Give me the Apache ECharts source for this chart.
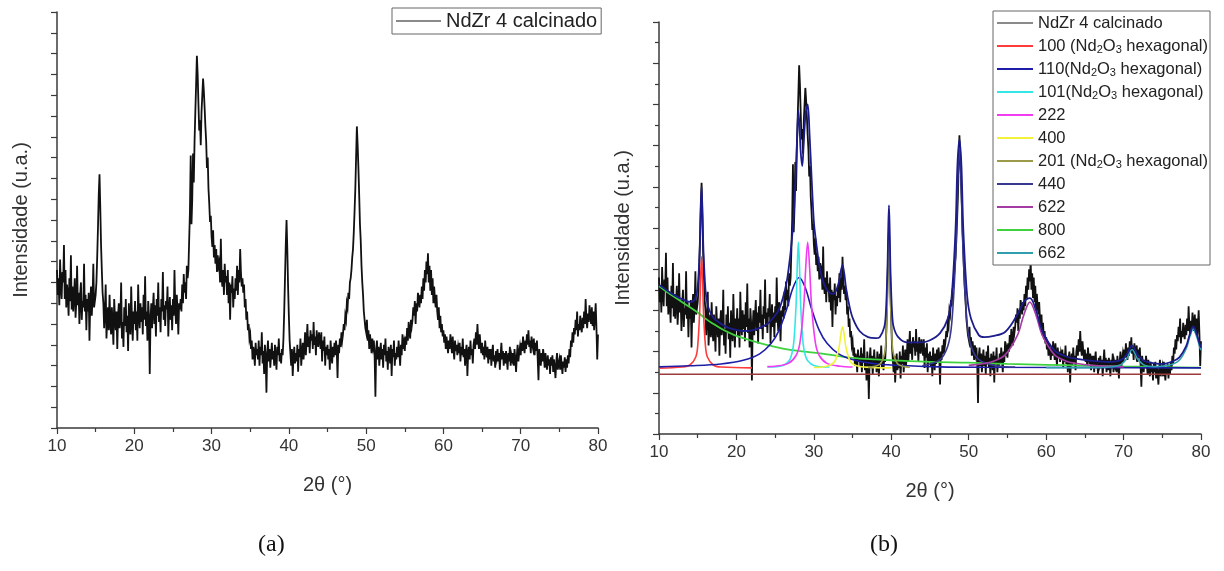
<!DOCTYPE html>
<html><head><meta charset="utf-8">
<script src="https://cdn.jsdelivr.net/npm/echarts@6/dist/echarts.min.js"></script>
<style>html,body{margin:0;padding:0;background:#fff}#c{width:1224px;height:571px}</style>
</head><body><div id="c"></div>
<script>
// ---- measured pattern: 2theta from 10 to 80 step 0.1 (intensity, arbitrary units) ----
const thetaStart = 10, thetaStep = 0.1;
const intensity = [
760,640,720,590,810,680,620,750,700,880,
620,760,580,690,640,540,720,610,830,570,
680,560,640,720,530,610,780,590,650,500,
640,700,520,610,580,790,560,640,470,620,
560,650,420,600,680,540,620,790,580,610,
640,700,820,960,1120,1220,1060,880,760,650,
600,480,560,690,430,520,580,470,640,510,
450,580,500,400,620,530,470,560,380,540,
600,480,520,700,430,510,390,580,490,620,
460,540,370,600,500,450,680,520,420,560,
500,610,470,560,420,690,540,480,600,510,
580,450,640,520,730,490,560,420,610,540,
260,520,600,480,570,650,500,590,440,620,
540,700,510,580,460,620,560,750,520,590,
490,610,570,680,440,560,630,520,590,470,
620,540,760,580,500,640,560,450,600,570,
620,560,690,600,740,650,700,620,780,720,
760,900,1040,1310,980,1100,1320,1180,1380,1520,
1650,1790,1700,1560,1430,1480,1360,1520,1600,1680,
1620,1540,1450,1380,1250,1300,1150,1080,990,1020,
920,870,950,820,880,790,860,750,830,780,
800,700,910,720,680,760,640,790,700,730,
640,760,600,700,520,690,650,730,580,670,
620,720,660,780,640,760,700,860,750,680,
720,650,690,580,620,520,560,470,500,430,
450,380,420,330,390,360,300,410,350,380,
330,420,300,390,350,460,310,370,260,400,
340,170,360,420,320,380,290,350,410,330,
370,300,400,340,280,390,350,430,320,360,
310,380,350,430,560,720,880,1000,860,680,
540,420,360,300,380,250,340,390,310,360,
320,400,270,380,340,430,300,360,410,330,
380,460,350,420,500,390,440,360,470,420,
450,380,510,400,440,350,470,420,390,460,
430,380,460,320,420,370,440,300,390,350,
400,330,380,280,420,360,310,390,340,410,
350,420,370,240,400,360,430,390,460,420,
450,500,470,540,520,600,580,650,620,700,
720,760,820,860,940,1040,1150,1300,1450,1360,
1250,1120,980,900,780,700,640,560,520,480,
460,520,420,470,380,450,410,360,430,390,
420,340,150,380,420,330,390,300,360,410,
330,380,290,400,350,430,320,370,280,390,
360,310,400,250,380,340,420,300,360,330,
390,340,420,360,300,400,350,450,380,410,
370,440,400,480,420,510,460,430,520,490,
520,580,540,610,500,600,560,650,620,580,
640,600,680,620,720,660,760,700,800,740,
840,700,780,660,760,640,720,600,680,620,
580,640,560,520,580,480,540,460,500,440,
470,410,450,380,440,400,360,420,380,450,
410,360,440,380,330,420,370,400,350,390,
360,410,320,390,350,430,340,380,300,370,
400,250,360,390,330,420,350,380,310,400,
430,380,460,400,500,420,380,450,400,360,
410,350,390,330,420,370,340,390,310,380,
330,380,300,360,400,320,350,290,370,340,
380,320,360,280,350,410,330,370,300,360,
310,370,330,280,360,320,390,300,350,330,
360,300,380,330,270,350,400,320,360,390,
350,410,370,440,390,360,420,380,450,400,
470,390,420,360,440,400,380,430,350,410,
370,420,330,230,380,340,300,360,320,380,
340,290,360,310,280,350,300,330,260,340,
300,350,270,330,290,240,320,360,280,310,
330,280,350,300,260,320,290,340,270,330,
290,350,310,380,340,420,390,460,410,480,
450,520,470,560,440,500,470,540,490,460,
530,480,560,500,620,520,480,550,510,590,
540,500,580,490,560,470,530,600,480,330,
450
];

// ---- fitted components (panel b), [2theta, intensity] ----
const fit100 = [[10,320],[13,325],[14,335],[14.75,374],[15,428],[15.25,590],[15.375,752],[15.5,860],[15.625,752],[15.75,590],[16,428],[16.25,374],[17,335],[18,325],[22,321]];
const fit110 = [[10,326],[14,331],[18,340],[21,359],[23,389],[24.5,440],[25.5,503],[26.5,608],[27.3,709],[28.1,760],[28.9,709],[29.7,608],[30.7,503],[31.7,440],[33.2,389],[35.2,359],[38.2,340],[42.2,331],[46.2,326],[52,324],[80,321]];
const fit101 = [[24,325],[26,333],[26.8,356],[27.1,381],[27.4,442],[27.7,625],[27.85,808],[28,930],[28.15,808],[28.3,625],[28.6,442],[28.9,381],[29.2,356],[30,333],[32,325]];
const fit222 = [[24,327],[25,329],[26.7,343],[27.7,381],[28.2,442],[28.7,625],[28.95,808],[29.2,930],[29.45,808],[29.7,625],[30.2,442],[30.7,381],[31.7,343],[33.4,329],[35,325]];
const fit400 = [[30,323],[31.5,328],[32.35,340],[32.8,360],[33.25,420],[33.475,480],[33.7,520],[33.925,480],[34.15,420],[34.6,360],[35.05,340],[35.9,328],[37.4,323],[40,321]];
const fit201 = [[37,324],[38.5,338],[39.1,386],[39.3,452],[39.5,650],[39.6,848],[39.7,980],[39.8,848],[39.9,650],[40.1,452],[40.3,386],[40.9,338],[42.4,324]];
const fit440 = [[44,331],[46.3,361],[47.3,427],[47.8,534],[48.3,855],[48.55,1176],[48.8,1390],[49.05,1176],[49.3,855],[49.8,534],[50.3,427],[51.3,361],[53.6,331],[56,325]];
const fit622 = [[50,333],[52,342],[53.1,352],[54.7,384],[56.3,480],[57.1,576],[57.9,640],[58.7,576],[59.5,480],[61.1,384],[62.7,352],[64,342],[66,333],[70,326]];
const fit800 = [[10,718],[11,690],[12,665],[13,640],[14,615],[15,590],[16,560],[17,535],[18,512],[19,493],[20,476],[22,452],[24,432],[26,415],[28,403],[30,395],[32,385],[35,370],[38,362],[40,358],[45,350],[50,346],[55,340],[60,336],[65,332],[70,328],[75,325],[80,322]];
const fit662 = [[60,322],[66,322],[68.3,325],[69,329],[69.7,338],[70.4,365],[70.75,392],[71.1,410],[71.45,392],[71.8,365],[72.5,338],[73.2,329],[74,327],[75,329],[76.3,339],[77.2,358],[78.1,415],[78.55,472],[79,510],[79.45,472],[79.9,415],[80,408]];
const baseLine = [[10,290],[80,290]];
const cumulative = [[10,724],[11,698],[12,673],[13,654],[14,641],[14.5,647],[14.75,665],[15,715],[15.25,880],[15.375,1060],[15.5,1200],[15.625,1060],[15.75,880],[16,700],[16.25,635],[16.5,600],[17,565],[18,535],[19,515],[20,505],[21,500],[22,503],[23,515],[24,535],[25,575],[25.5,605],[26,660],[26.5,740],[26.8,820],[27.1,920],[27.4,1060],[27.7,1300],[27.85,1450],[28,1570],[28.15,1490],[28.3,1370],[28.5,1300],[28.7,1420],[28.95,1560],[29.2,1600],[29.45,1450],[29.7,1250],[30,1030],[30.2,960],[30.7,820],[31.2,740],[31.7,700],[32.35,680],[32.8,690],[33.25,740],[33.475,790],[33.7,820],[33.925,780],[34.15,710],[34.6,620],[35.05,560],[35.9,500],[37,470],[38,465],[38.5,470],[39.1,520],[39.3,590],[39.5,790],[39.6,980],[39.7,1110],[39.8,980],[39.9,790],[40.1,590],[40.3,520],[40.9,470],[42,445],[44,445],[45,455],[46.3,490],[47.3,560],[47.8,670],[48.3,995],[48.55,1310],[48.8,1430],[49.05,1310],[49.3,995],[49.8,670],[50.3,560],[51.3,480],[52,470],[53.1,475],[54.7,495],[56.3,580],[57.1,640],[57.9,660],[58.7,600],[59.5,500],[61.1,405],[62.7,375],[64,365],[66,355],[68.3,350],[69.7,360],[70.4,385],[70.75,412],[71.1,430],[71.45,412],[71.8,385],[72.5,358],[73.2,349],[74,343],[75,340],[76.3,352],[77.2,372],[78.1,428],[78.55,484],[79,522],[79.45,484],[79.9,428],[80,420]];

const xTicks = [10,20,30,40,50,60,70,80];
const legendNames = ['NdZr 4 calcinado','100 (Nd2O3 hexagonal)','110(Nd2O3 hexagonal)','101(Nd2O3 hexagonal)','222','400','201 (Nd2O3 hexagonal)','440','622','800','662'];

const pattern = intensity.map((v,i)=>[+(thetaStart + i*thetaStep).toFixed(2), v]);

const FONT = "'Liberation Sans', Arial, sans-serif";
const axisCol = '#3a3a3a';

function xAxisCfg(gi){
  return {type:'value', gridIndex:gi, min:10, max:80, interval:10,
    name:'2\u03B8 (\u00B0)', nameLocation:'middle', nameGap:47,
    nameTextStyle:{fontFamily:FONT, fontSize:20, color:'#333'},
    axisLine:{show:true, onZero:false, lineStyle:{color:axisCol, width:1.5}},
    axisTick:{show:true, length:6, lineStyle:{color:axisCol, width:1.2}},
    minorTick:{show:true, splitNumber:2, length:4, lineStyle:{color:axisCol, width:1.2}},
    axisLabel:{fontFamily:FONT, fontSize:17, color:'#333', margin:10},
    splitLine:{show:false}};
}
function yAxisCfg(gi, major){
  return {type:'value', gridIndex:gi, min:0, max:2000, interval:major,
    name:'Intensidade (u.a.)', nameLocation:'middle', nameGap:26,
    nameTextStyle:{fontFamily:FONT, fontSize:20, color:'#333'},
    axisLine:{show:true, onZero:false, lineStyle:{color:axisCol, width:1.5}},
    axisTick:{show:true, length:6, lineStyle:{color:axisCol, width:1.2}},
    minorTick:{show: major>100, splitNumber:2, length:4, lineStyle:{color:axisCol, width:1.2}},
    axisLabel:{show:false}, splitLine:{show:false}};
}

function fitSeries(name, data, color, width){
  return {name, type:'line', xAxisIndex:1, yAxisIndex:1, data, symbol:'none', smooth:0.35,
    color, lineStyle:{color, width: width||1.6}, silent:true, animation:false, z:3};
}

const dataStyle = {color:'#111', width:1.8, join:'miter'};
const series = [
  {name:'NdZr 4 calcinado', type:'line', xAxisIndex:0, yAxisIndex:0, data:pattern, symbol:'none',
   color:'#8a8a8a', lineStyle:dataStyle, animation:false, silent:true},
  {name:'NdZr 4 calcinado', type:'line', xAxisIndex:1, yAxisIndex:1, data:pattern, symbol:'none',
   color:'#8a8a8a', lineStyle:dataStyle, animation:false, silent:true},
  Object.assign(fitSeries('baseline', baseLine, '#9c3b3b', 1.6), {smooth:false}),
  fitSeries('800', fit800, '#3fd23f', 1.8),
  fitSeries('100 (Nd2O3 hexagonal)', fit100, '#ff3b3b'),
  fitSeries('110(Nd2O3 hexagonal)', fit110, '#1d1da8'),
  fitSeries('101(Nd2O3 hexagonal)', fit101, '#35e6e6'),
  fitSeries('222', fit222, '#f23cf2'),
  fitSeries('400', fit400, '#f2f23a'),
  fitSeries('201 (Nd2O3 hexagonal)', fit201, '#9a9a4a'),
  fitSeries('440', fit440, '#38388f'),
  fitSeries('622', fit622, '#a43ca4'),
  fitSeries('662', fit662, '#2f9fb0'),
  fitSeries('Cumulative Fit', cumulative, '#1c1c8c', 1.8)
];

const richSub = {s:{fontSize:11, fontFamily:FONT, color:'#222', padding:[8,0,0,0]}};
const chart = echarts.init(document.getElementById('c'), null, {renderer:'canvas'});
chart.setOption({
  animation:false,
  backgroundColor:'#fff',
  grid:[{left:57, top:12, width:541, height:416},{left:659, top:22, width:542, height:412}],
  xAxis:[xAxisCfg(0), xAxisCfg(1)],
  yAxis:[yAxisCfg(0,100), yAxisCfg(1,200)],
  legend:[
    {data:['NdZr 4 calcinado'], left:392, top:8, icon:'rect', itemWidth:45, itemHeight:2, itemGap:5,
     padding:[3,4,3,4], borderColor:'#666', borderWidth:1, backgroundColor:'#fff',
     textStyle:{fontFamily:FONT, fontSize:20, color:'#222', padding:[0,0,0,0]}, selectedMode:false},
    {data:legendNames, orient:'vertical', left:993, top:11, icon:'rect', itemWidth:36, itemHeight:2, itemGap:3,
     padding:[2,2,2,4], borderColor:'#666', borderWidth:1, backgroundColor:'#fff', selectedMode:false,
     formatter: n => n.replace('Nd2O3','Nd{s|2}O{s|3}'),
     textStyle:{fontFamily:FONT, fontSize:16.5, color:'#222', lineHeight:20, height:20, rich:richSub}}
  ],
  graphic:[
    {type:'text', left:258, top:533, style:{text:'(a)', font:"24px 'Liberation Serif', serif", fill:'#111'}},
    {type:'text', left:870, top:533, style:{text:'(b)', font:"24px 'Liberation Serif', serif", fill:'#111'}}
  ],
  series
});
</script></body></html>
